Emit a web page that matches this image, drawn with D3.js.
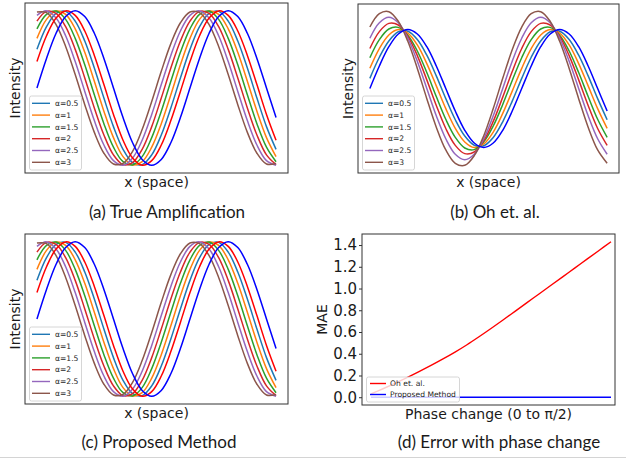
<!DOCTYPE html>
<html>
<head>
<meta charset="utf-8">
<script src="https://cdn.jsdelivr.net/npm/d3@7"></script>
<style>
  body { margin: 0; background: #fff; }
  svg { display: block; }
</style>
</head>
<body>
<div id="figure"></div>
<script>
// positions along x (space), 0..1
const xSamples = [0, 0.04, 0.08, 0.12, 0.16, 0.2, 0.24, 0.28, 0.32, 0.36, 0.4, 0.44, 0.48,
                  0.52, 0.56, 0.6, 0.64, 0.68, 0.72, 0.76, 0.8, 0.84, 0.88, 0.92, 0.96, 1.0];

const alphaLabels = ["α=0.5", "α=1", "α=1.5", "α=2", "α=2.5", "α=3"];
const alphaColors = ["#1f77b4", "#ff7f0e", "#2ca02c", "#d62728", "#9467bd", "#8c564b"];

// (a) true amplification / (c) proposed method  -- intensity
const trueOriginal = [0.5, 0.691, 0.854, 0.962, 1, 0.962, 0.854, 0.691, 0.5, 0.309, 0.146, 0.038, 0,
                      0.038, 0.146, 0.309, 0.5, 0.691, 0.854, 0.962, 1, 0.962, 0.854, 0.691, 0.5, 0.309];
const trueNextFrame = [0.671, 0.838, 0.953, 0.999, 0.970, 0.869, 0.711, 0.522, 0.329, 0.162, 0.047, 0.0, 0.030,
                       0.131, 0.289, 0.478, 0.671, 0.838, 0.953, 0.999, 0.970, 0.869, 0.711, 0.522, 0.329, 0.162];
const trueA05 = [0.75, 0.897, 0.983, 0.996, 0.933, 0.804, 0.629, 0.435, 0.25, 0.103, 0.017, 0.004, 0.067,
                 0.196, 0.371, 0.565, 0.75, 0.897, 0.983, 0.996, 0.933, 0.804, 0.629, 0.435, 0.25, 0.103];
const trueA1 = [0.821, 0.944, 0.998, 0.977, 0.883, 0.731, 0.544, 0.350, 0.179, 0.056, 0.002, 0.023, 0.117,
                0.269, 0.456, 0.650, 0.821, 0.944, 0.998, 0.977, 0.883, 0.731, 0.544, 0.350, 0.179, 0.056];
const trueA15 = [0.883, 0.977, 0.998, 0.944, 0.821, 0.650, 0.456, 0.269, 0.117, 0.023, 0.002, 0.056, 0.179,
                 0.350, 0.544, 0.731, 0.883, 0.977, 0.998, 0.944, 0.821, 0.650, 0.456, 0.269, 0.117, 0.023];
const trueA2 = [0.933, 0.996, 0.983, 0.897, 0.75, 0.565, 0.371, 0.196, 0.067, 0.004, 0.017, 0.103, 0.25,
                0.435, 0.629, 0.804, 0.933, 0.996, 0.983, 0.897, 0.75, 0.565, 0.371, 0.196, 0.067, 0.004];
const trueA25 = [0.970, 0.999, 0.953, 0.838, 0.671, 0.478, 0.289, 0.131, 0.030, 0.0, 0.047, 0.162, 0.329,
                 0.522, 0.711, 0.869, 0.970, 0.999, 0.953, 0.838, 0.671, 0.478, 0.289, 0.131, 0.030, 0.0];
const trueA3 = [0.992, 0.988, 0.910, 0.769, 0.587, 0.392, 0.213, 0.078, 0.008, 0.012, 0.090, 0.231, 0.413,
                0.608, 0.787, 0.922, 0.992, 0.988, 0.910, 0.769, 0.587, 0.392, 0.213, 0.078, 0.008, 0.012];

// (b) Oh et. al.
const ohOriginal = [0.5, 0.691, 0.854, 0.962, 1, 0.962, 0.854, 0.691, 0.5, 0.309, 0.146, 0.038, 0,
                    0.038, 0.146, 0.309, 0.5, 0.691, 0.854, 0.962, 1, 0.962, 0.854, 0.691, 0.5, 0.309];
const ohA05 = [0.586, 0.765, 0.903, 0.981, 0.985, 0.915, 0.782, 0.607, 0.414, 0.235, 0.097, 0.019, 0.015,
               0.085, 0.218, 0.393, 0.586, 0.765, 0.903, 0.981, 0.985, 0.915, 0.782, 0.607, 0.414, 0.235];
const ohA1 = [0.671, 0.838, 0.953, 0.999, 0.970, 0.869, 0.711, 0.522, 0.329, 0.162, 0.047, 0.0, 0.030,
              0.131, 0.289, 0.478, 0.671, 0.838, 0.953, 0.999, 0.970, 0.869, 0.711, 0.522, 0.329, 0.162];
const ohA15 = [0.761, 0.914, 1.004, 1.018, 0.952, 0.818, 0.635, 0.432, 0.239, 0.086, -0.004, -0.018, 0.048,
               0.182, 0.365, 0.568, 0.761, 0.914, 1.004, 1.018, 0.952, 0.818, 0.635, 0.432, 0.239, 0.086];
const ohA2 = [0.839, 0.982, 1.052, 1.038, 0.942, 0.779, 0.573, 0.356, 0.161, 0.018, -0.052, -0.038, 0.058,
              0.221, 0.427, 0.644, 0.839, 0.982, 1.052, 1.038, 0.942, 0.779, 0.573, 0.356, 0.161, 0.018];
const ohA25 = [0.926, 1.057, 1.103, 1.057, 0.926, 0.731, 0.5, 0.269, 0.074, -0.057, -0.103, -0.057, 0.074,
               0.269, 0.5, 0.731, 0.926, 1.057, 1.103, 1.057, 0.926, 0.731, 0.5, 0.269, 0.074, -0.057];
const ohA3 = [1.021, 1.134, 1.151, 1.069, 0.900, 0.670, 0.414, 0.172, -0.021, -0.134, -0.151, -0.069, 0.100,
              0.330, 0.586, 0.828, 1.021, 1.134, 1.151, 1.069, 0.900, 0.670, 0.414, 0.172, -0.021, -0.134];

// (d) error with phase change (fraction of pi/2)
const phaseSteps = [0, 0.05, 0.1, 0.15, 0.2, 0.25, 0.3, 0.35, 0.4, 0.45, 0.5,
                    0.55, 0.6, 0.65, 0.7, 0.75, 0.8, 0.85, 0.9, 0.95, 1.0];
const maeOh = [0.03, 0.078, 0.128, 0.18, 0.235, 0.292, 0.352, 0.415, 0.483, 0.556, 0.632,
               0.71, 0.79, 0.87, 0.95, 1.03, 1.11, 1.19, 1.27, 1.35, 1.43];
const maeProposed = [0, 0, 0, 0, 0, 0, 0, 0, 0, 0, 0, 0, 0, 0, 0, 0, 0, 0, 0, 0, 0];
const maeTicks = [0, 0.2, 0.4, 0.6, 0.8, 1.0, 1.2, 1.4];
const maeLabels = ["Oh et. al.", "Proposed Method"];

const captions = ["(a) True Amplification", "(b) Oh et. al.", "(c) Proposed Method", "(d) Error with phase change"];

var axisFont = "'DejaVu Sans', sans-serif";
var captionFont = "Lato, 'Open Sans', sans-serif";

var svg = d3.select("#figure").append("svg")
    .attr("width", 626)
    .attr("height", 459)
    .style("background", "#fff");

var clipId = 0;

function drawLegend(g, box, entries) {
    var lg = g.append("g").attr("class", "legend");
    lg.append("rect")
        .attr("x", box.x).attr("y", box.y)
        .attr("width", box.w).attr("height", box.h)
        .attr("rx", 2)
        .style("fill", "#fff").style("fill-opacity", 0.8)
        .style("stroke", "#cccccc").style("stroke-width", 0.8);
    entries.forEach((e, i) => {
        var cy = box.y + box.firstRow + i * box.rowStep;
        lg.append("line")
            .attr("x1", box.x + box.lineStart).attr("x2", box.x + box.lineEnd)
            .attr("y1", cy).attr("y2", cy)
            .style("stroke", e.color).style("stroke-width", 1.4);
        lg.append("text")
            .attr("x", box.x + box.textStart).attr("y", cy)
            .attr("dy", "0.35em")
            .style("font-family", axisFont)
            .style("font-size", "7.6px")
            .style("fill", "#262626")
            .text(e.label);
    });
}

function axesLabels(g, frame, xLabel, yLabel, yLabelX) {
    g.append("text")
        .attr("x", (frame.left + frame.right) / 2)
        .attr("y", frame.bottom + 14)
        .attr("text-anchor", "middle")
        .style("font-family", axisFont).style("font-size", "14px").style("fill", "#1a1a1a")
        .text(xLabel);
    g.append("text")
        .attr("transform", `translate(${yLabelX},${(frame.top + frame.bottom) / 2}) rotate(-90)`)
        .attr("text-anchor", "middle")
        .style("font-family", axisFont).style("font-size", "14px").style("fill", "#1a1a1a")
        .text(yLabel);
}

function wavePanel(frame, series, legendBox, yLabelX) {
    var g = svg.append("g");
    var xScale = d3.scaleLinear().domain([-0.05, 1.05]).range([frame.left, frame.right]);
    var ext = d3.extent(series.flatMap(s => s.values));
    var pad = (ext[1] - ext[0]) * 0.05;
    var yScale = d3.scaleLinear().domain([ext[0] - pad, ext[1] + pad]).range([frame.bottom, frame.top]);

    clipId++;
    g.append("clipPath").attr("id", "clip" + clipId)
        .append("rect")
        .attr("x", frame.left).attr("y", frame.top)
        .attr("width", frame.right - frame.left).attr("height", frame.bottom - frame.top);

    var line = d3.line()
        .x((d, i) => xScale(xSamples[i]))
        .y(d => yScale(d))
        .curve(d3.curveCatmullRom);

    g.append("g").attr("clip-path", `url(#clip${clipId})`)
        .selectAll("path")
        .data(series)
        .enter().append("path")
        .attr("d", d => line(d.values))
        .style("fill", "none")
        .style("stroke", d => d.color)
        .style("stroke-width", 1.5);

    g.append("rect")
        .attr("x", frame.left).attr("y", frame.top)
        .attr("width", frame.right - frame.left).attr("height", frame.bottom - frame.top)
        .style("fill", "none").style("stroke", "#333").style("stroke-width", 1);

    drawLegend(g, legendBox, series.filter(s => s.label));
    axesLabels(g, frame, "x (space)", "Intensity", yLabelX);
}

function alphaSeries(list) {
    return list.map((v, i) => ({values: v, color: alphaColors[i], label: alphaLabels[i]}));
}

// (a) True Amplification
var seriesA = alphaSeries([trueA05, trueA1, trueA15, trueA2, trueA25, trueA3])
    .concat([{values: trueNextFrame, color: "#ff0000"}, {values: trueOriginal, color: "#0000ff"}]);
wavePanel({left: 25, top: 3, right: 288, bottom: 173}, seriesA,
    {x: 29.5, y: 96, w: 52, h: 74, firstRow: 7.3, rowStep: 11.8, lineStart: 2.5, lineEnd: 20.5, textStart: 25.5}, 20);

// (b) Oh et. al.
var seriesB = alphaSeries([ohA05, ohA1, ohA15, ohA2, ohA25, ohA3])
    .concat([{values: ohOriginal, color: "#0000ff"}]);
wavePanel({left: 358, top: 4, right: 619, bottom: 173}, seriesB,
    {x: 362.5, y: 96, w: 52, h: 74, firstRow: 7.3, rowStep: 11.8, lineStart: 2.5, lineEnd: 20.5, textStart: 25.5}, 353);

// (c) Proposed Method
var seriesC = alphaSeries([trueA05, trueA1, trueA15, trueA2, trueA25, trueA3])
    .concat([{values: trueNextFrame, color: "#ff0000"}, {values: trueOriginal, color: "#0000ff"}]);
wavePanel({left: 25, top: 234, right: 288, bottom: 404}, seriesC,
    {x: 29.5, y: 327, w: 52, h: 74, firstRow: 7.3, rowStep: 11.8, lineStart: 2.5, lineEnd: 20.5, textStart: 25.5}, 20);

// (d) Error with phase change
(function () {
    var frame = {left: 362, top: 234, right: 615, bottom: 405};
    var g = svg.append("g");
    var xScale = d3.scaleLinear().domain([0, 1]).range([371, 611]);
    var yMax = d3.max(maeOh);
    var pad = yMax * 0.05;
    var yScale = d3.scaleLinear().domain([0 - pad, yMax + pad]).range([frame.bottom, frame.top]);

    var line = d3.line()
        .x((d, i) => xScale(phaseSteps[i]))
        .y(d => yScale(d))
        .curve(d3.curveCatmullRom);

    g.append("path").attr("d", line(maeOh))
        .style("fill", "none").style("stroke", "#ff0000").style("stroke-width", 1.4);
    g.append("path").attr("d", line(maeProposed))
        .style("fill", "none").style("stroke", "#0000ff").style("stroke-width", 1.4);

    var yAxis = d3.axisLeft(yScale)
        .tickValues(maeTicks)
        .tickFormat(d3.format(".1f"))
        .tickSize(3)
        .tickPadding(2);
    var ax = g.append("g")
        .attr("transform", `translate(${frame.left},0)`)
        .call(yAxis);
    ax.select(".domain").remove();
    ax.selectAll("line").style("stroke", "#333");
    ax.selectAll("text")
        .style("font-family", axisFont).style("font-size", "15px").style("fill", "#1a1a1a");

    g.append("rect")
        .attr("x", frame.left).attr("y", frame.top)
        .attr("width", frame.right - frame.left).attr("height", frame.bottom - frame.top)
        .style("fill", "none").style("stroke", "#333").style("stroke-width", 1);

    drawLegend(g, {x: 366.5, y: 377, w: 93, h: 25, firstRow: 6.5, rowStep: 11, lineStart: 3.5, lineEnd: 19.5, textStart: 23.5},
        [{label: maeLabels[0], color: "#ff0000"}, {label: maeLabels[1], color: "#0000ff"}]);

    axesLabels(g, frame, "Phase change (0 to π/2)", "MAE", 327);
})();

// captions under each panel
var capPos = [[167, 218], [495, 218], [159, 448], [499, 448]];
captions.forEach((c, i) => {
    svg.append("text")
        .attr("x", capPos[i][0]).attr("y", capPos[i][1])
        .attr("text-anchor", "middle")
        .style("font-family", captionFont)
        .style("font-size", "17px")
        .style("fill", "#1a1a1a")
        .text(c);
});

// thin rule at the bottom of the figure
svg.append("line")
    .attr("x1", 0).attr("x2", 626)
    .attr("y1", 457.5).attr("y2", 457.5)
    .style("stroke", "#d4d4d4").style("stroke-width", 1);
</script>
</body>
</html>
